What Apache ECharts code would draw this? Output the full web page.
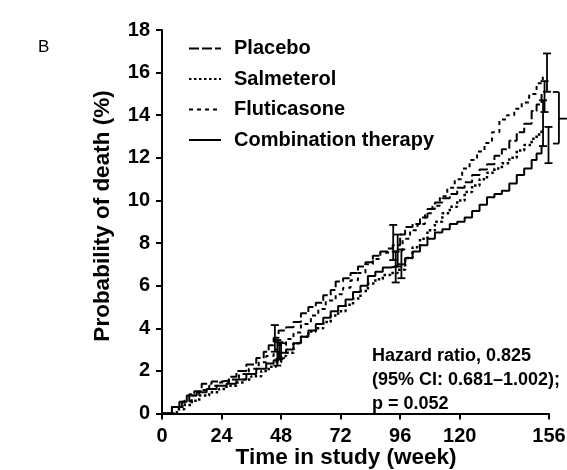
<!DOCTYPE html>
<html>
<head>
<meta charset="utf-8">
<script src="https://cdn.jsdelivr.net/npm/echarts@6/dist/echarts.min.js"></script>
<style>
  html, body { margin: 0; padding: 0; background: #fff; }
  #chart { width: 567px; height: 470px; }
</style>
</head>
<body>
<div id="chart"></div>
<script>
// tick labels
const xTicks = [0, 24, 48, 72, 96, 120, 156]

// [week, probability %] – step points
const placebo = [
  [0, 0], [4, 0.3], [8, 0.55], [11, 0.9], [13, 1.05], [16, 1.4], [20, 1.5], [24, 1.55],
  [27, 1.72], [30, 2.0], [34, 2.3], [38, 2.6], [41, 2.9], [43, 3.2], [45, 3.55], [47, 3.9],
  [50, 4.05], [53, 4.3], [56, 4.7], [59, 5.0], [62, 5.2], [65, 5.55], [68, 5.8], [70, 6.2],
  [73, 6.35], [76, 6.6], [79, 6.9], [82, 7.1], [85, 7.4], [88, 7.6], [91, 7.75], [93, 7.9],
  [96, 8.4], [98, 8.75], [101, 8.9], [104, 9.2], [107, 9.6], [110, 9.9], [113, 10.1],
  [116, 10.3], [119, 10.6], [122, 10.85], [125, 11.2], [128, 11.45], [131, 11.7], [134, 12.1],
  [137, 12.4], [140, 12.8], [143, 13.2], [146, 13.6], [149, 14.2], [151, 14.5], [153, 15.0]
]
const salmeterol = [
  [0, 0], [6, 0.2], [9, 0.4], [12, 0.6], [15, 0.85], [19, 1.0], [23, 1.15], [26, 1.3],
  [30, 1.45], [33, 1.6], [36, 1.75], [40, 2.0], [43, 2.2], [46, 2.4], [48, 2.7], [50, 2.85],
  [53, 3.3], [56, 3.6], [59, 3.85], [62, 4.0], [65, 4.3], [68, 4.6], [71, 4.8], [74, 5.1],
  [77, 5.4], [80, 5.75], [83, 6.1], [86, 6.3], [89, 6.5], [92, 6.6], [95, 6.75], [98, 7.3],
  [101, 7.8], [104, 8.2], [107, 8.6], [110, 9.0], [113, 9.4], [116, 9.7], [119, 10.0],
  [122, 10.4], [125, 10.7], [128, 11.0], [131, 11.3], [134, 11.5], [137, 11.75], [140, 12.0],
  [143, 12.35], [146, 12.6], [149, 12.9], [151, 13.1], [153, 13.4]
]
const fluticasone = [
  [0, 0], [4, 0.3], [9, 0.6], [12, 0.85], [15, 1.1], [19, 1.3], [23, 1.45], [27, 1.6],
  [31, 1.85], [35, 2.1], [39, 2.4], [42, 2.7], [45, 3.0], [47, 3.2], [50, 3.5], [53, 3.8],
  [56, 4.2], [60, 4.6], [63, 4.9], [66, 5.3], [70, 5.6], [73, 5.9], [76, 6.25], [79, 6.6],
  [82, 7.0], [85, 7.25], [88, 7.55], [91, 7.6], [94, 7.65], [97, 8.2], [100, 8.6], [103, 8.9],
  [106, 9.4], [109, 9.75], [112, 10.2], [115, 10.6], [118, 11.0], [121, 11.5], [124, 11.9],
  [127, 12.3], [130, 12.7], [133, 13.2], [136, 13.8], [139, 14.0], [142, 14.3], [145, 14.6],
  [148, 15.0], [151, 15.5], [153.5, 15.8]
]
const combination = [
  [0, 0], [4, 0.3], [7, 0.55], [10, 0.85], [14, 1.0], [18, 1.15], [22, 1.3], [26, 1.4],
  [30, 1.6], [34, 1.85], [38, 2.1], [42, 2.35], [45, 2.5], [47, 2.85], [50, 3.0], [53, 3.3],
  [56, 3.6], [59, 3.9], [62, 4.2], [65, 4.5], [68, 4.8], [71, 5.05], [74, 5.35], [77, 5.7],
  [80, 6.0], [83, 6.45], [86, 6.65], [89, 6.85], [92, 6.9], [95, 7.0], [98, 7.3], [101, 7.6],
  [104, 7.9], [107, 8.2], [110, 8.5], [113, 8.65], [116, 8.9], [119, 9.0], [122, 9.2],
  [125, 9.5], [128, 9.8], [131, 10.15], [134, 10.3], [137, 10.45], [140, 10.8], [143, 11.2],
  [146, 11.5], [149, 11.9], [151, 12.2], [153, 12.6]
]

// [week, lower, upper] 95% CI bars
const errorBars = [
  [45.5, 2.9, 4.15], [46.5, 2.25, 3.45], [47.3, 2.55, 3.35], [48, 2.6, 3.3],
  [93.2, 7.2, 8.85], [94.2, 6.15, 7.6], [95, 6.9, 8.4], [96.5, 6.35, 7.7],
  [153.6, 12.55, 14.7], [154.2, 14.15, 15.6], [155.2, 15.1, 16.9], [155.8, 11.75, 13.45]
]
// [week, lower, upper, mid] bracket right of the curves
const bracket = [[160, 12.67, 15.09, 13.84]]

const hazardText = ['Hazard ratio, 0.825', '(95% CI: 0.681\u20131.002);', 'p = 0.052']

const FONT = 'Liberation Sans, Arial, Helvetica, sans-serif'
const chart = echarts.init(document.getElementById('chart'))

function kmLine(name, data, dash, width) {
  return {
    name: name,
    type: 'line',
    step: 'end',
    data: data,
    symbol: 'none',
    showSymbol: false,
    animation: false,
    lineStyle: { color: '#000', width: width, type: dash },
    itemStyle: { color: '#000' }
  }
}

chart.setOption({
  animation: false,
  grid: { left: 162, right: 18, top: 30, bottom: 56.5, outerBoundsMode: 'none' },
  legend: {
    orient: 'vertical',
    left: 183,
    top: 33,
    itemWidth: 32,
    itemHeight: 14,
    itemGap: 9.5,
    data: ['Placebo', 'Salmeterol', 'Fluticasone', 'Combination therapy'],
    // hide the symbol ECharts puts in the middle of a line icon
    itemStyle: { opacity: 0 },
    textStyle: {
      color: '#000', fontSize: 20, fontWeight: 'bold', fontFamily: FONT,
      lineHeight: 21, padding: [0, 0, 0, 8]
    },
    selectedMode: false
  },
  xAxis: {
    type: 'value',
    min: 0,
    max: 156,
    axisLine: { onZero: false, lineStyle: { color: '#000', width: 2 } },
    axisTick: { customValues: xTicks, length: 6, lineStyle: { color: '#000', width: 2 } },
    axisLabel: {
      customValues: xTicks, color: '#000', fontSize: 20, fontWeight: 'bold',
      fontFamily: FONT, margin: 13
    },
    splitLine: { show: false }
  },
  yAxis: {
    type: 'value',
    min: 0,
    max: 18,
    interval: 2,
    axisLine: { show: true, lineStyle: { color: '#000', width: 2 } },
    axisTick: { show: true, length: 6, lineStyle: { color: '#000', width: 2 } },
    axisLabel: { color: '#000', fontSize: 20, fontWeight: 'bold', fontFamily: FONT, margin: 12 },
    splitLine: { show: false }
  },
  graphic: [
    { type: 'text', left: 38, top: 39, style: { text: 'B', font: '17px ' + FONT, fill: '#000' } },
    {
      type: 'text', x: 103, y: 216, rotation: Math.PI / 2,
      style: {
        text: 'Probability of death (%)', font: 'bold 22.5px ' + FONT, fill: '#000',
        align: 'center', verticalAlign: 'middle'
      }
    },
    {
      type: 'text', x: 346, y: 458,
      style: {
        text: 'Time in study (week)', font: 'bold 22.5px ' + FONT, fill: '#000',
        align: 'center', verticalAlign: 'middle'
      }
    },
    {
      type: 'text', left: 372, top: 344,
      style: { text: hazardText.join('\n'), font: 'bold 18px ' + FONT, fill: '#000', lineHeight: 24 }
    }
  ],
  series: [
    kmLine('Placebo', placebo, [10, 3], 2),
    kmLine('Salmeterol', salmeterol, [2.5, 2.5], 2.5),
    kmLine('Fluticasone', fluticasone, [4, 4], 2),
    kmLine('Combination therapy', combination, 'solid', 2),
    {
      type: 'custom',
      data: errorBars,
      encode: { x: 0, y: [1, 2] },
      z: 5,
      animation: false,
      renderItem: function (params, api) {
        const x = api.value(0)
        const lo = api.coord([x, api.value(1)])
        const hi = api.coord([x, api.value(2)])
        const w = 4
        const st = { stroke: '#000', lineWidth: 1.8 }
        return {
          type: 'group',
          children: [
            { type: 'line', shape: { x1: lo[0], y1: lo[1], x2: hi[0], y2: hi[1] }, style: st },
            { type: 'line', shape: { x1: lo[0] - w, y1: lo[1], x2: lo[0] + w, y2: lo[1] }, style: st },
            { type: 'line', shape: { x1: hi[0] - w, y1: hi[1], x2: hi[0] + w, y2: hi[1] }, style: st }
          ]
        }
      }
    },
    {
      type: 'custom',
      data: bracket,
      encode: { x: 0, y: [1, 2] },
      clip: false,
      z: 5,
      animation: false,
      renderItem: function (params, api) {
        const x = api.value(0)
        const lo = api.coord([x, api.value(1)])
        const hi = api.coord([x, api.value(2)])
        const mid = api.coord([x, api.value(3)])
        const st = { stroke: '#000', lineWidth: 1.8 }
        return {
          type: 'group',
          children: [
            { type: 'line', shape: { x1: lo[0], y1: lo[1], x2: hi[0], y2: hi[1] }, style: st },
            { type: 'line', shape: { x1: lo[0] - 6, y1: lo[1], x2: lo[0], y2: lo[1] }, style: st },
            { type: 'line', shape: { x1: hi[0] - 6, y1: hi[1], x2: hi[0], y2: hi[1] }, style: st },
            { type: 'line', shape: { x1: mid[0], y1: mid[1], x2: mid[0] + 8, y2: mid[1] }, style: st }
          ]
        }
      }
    }
  ]
})
</script>
</body>
</html>
